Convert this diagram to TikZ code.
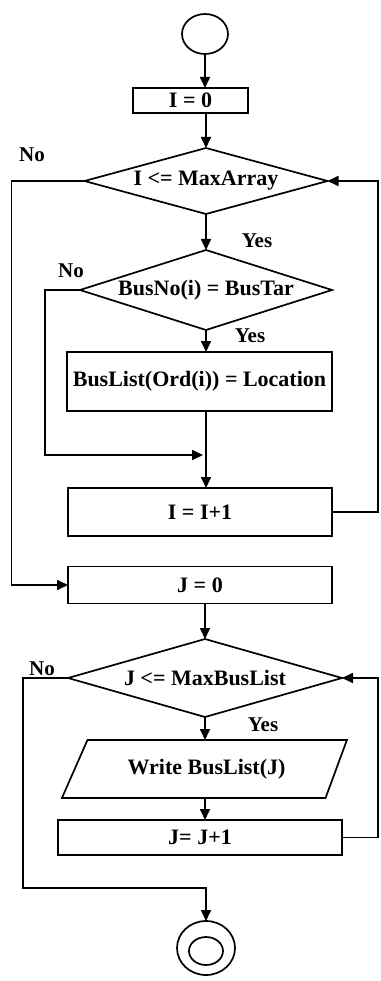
\documentclass[tikz,border=0pt]{standalone}
\usepackage{fontspec}
\setmainfont{Liberation Serif}
\usetikzlibrary{shapes.geometric,arrows.meta}
% zero-width box so that long conditions may touch the outline
\newcommand{\zerowd}[1]{\makebox[0pt]{#1}}
\begin{document}
\begin{tikzpicture}[x=1pt,y=-1pt,
  line width=1.7pt,
  font=\fontsize{22}{24}\selectfont\bfseries,
  every node/.style={inner sep=0pt, outer sep=0pt},
  procbox/.style={draw, rectangle},
  decision/.style={draw, diamond, aspect=1},
  iobox/.style={draw, trapezium, trapezium left angle=38, trapezium right angle=137,
    trapezium stretches body},
  terminal/.style={draw, ellipse},
  flow/.style={-{Triangle[length=11pt,width=10pt]}},
  lbl/.style={font=\fontsize{21}{23}\selectfont\bfseries}
]
\useasboundingbox (0,0) rectangle (380,981);

% nodes
\node[terminal, minimum width=46, minimum height=40] (start) at (205,34) {};
\node[procbox, minimum width=115, minimum height=25] (i0) at (190.5,100.5) {I = 0};
\node[decision, minimum width=243, minimum height=66] (d1) at (206,181) {\zerowd{I <= MaxArray}};
\node[decision, minimum width=252, minimum height=80] (d2) at (206,290) {\zerowd{BusNo(i) = BusTar}};
\node[procbox, minimum width=265, minimum height=59] (busl) at (199.5,381.5) {BusList(Ord(i)) = Location};
\node[procbox, minimum width=264, minimum height=48] (iinc) at (200,512) {I = I+1};
\node[procbox, minimum width=264, minimum height=37] (j0) at (200,585) {J = 0};
\node[decision, minimum width=274, minimum height=78] (d3) at (205,678) {\zerowd{J <= MaxBusList}};
\node[iobox, minimum width=285, minimum height=58] (wr) at (206.5,769) {\zerowd{Write BusList(J)}};
\node[procbox, minimum width=284, minimum height=35] (jinc) at (200,837.5) {J= J+1};
\node[terminal, minimum width=58, minimum height=54] (stop) at (206,948) {};
\node[terminal, minimum width=34, minimum height=28] (stopin) at (206,951) {};

% branch labels
\node[lbl] (no1) at (32,155) {No};
\node[lbl] (yes1) at (257,241) {Yes};
\node[lbl] (no2) at (71,271) {No};
\node[lbl] (yes2) at (250,336) {Yes};
\node[lbl] (no3) at (42,669) {No};
\node[lbl] (yes3) at (263,725) {Yes};

\coordinate (join) at (206,455);

% connectors
\draw[flow] (start.south) -- (start.south |- i0.north);
\draw[flow] (i0.south -| d1.north) -- (d1.north);
\draw[flow] (d1.south) -- (d2.north);
\draw[flow] (d2.south) -- (d2.south |- busl.north);
\draw[flow] (d2.south |- busl.south) -- (d2.south |- iinc.north);
\draw[flow] (d2.west) -- ++(-35,0) |- ([xshift=-3]join);
\draw[flow] (iinc.east) -- ++(46,0) |- (d1.east);
\draw[flow] (d1.west) -- ++(-73,0) |- (j0.west);
\draw[flow] (j0.south -| d3.north) -- (d3.north);
\draw[flow] (d3.south) -- (d3.south |- wr.north);
\draw[flow] (d3.south |- wr.south) -- (d3.south |- jinc.north);
\draw[flow] (jinc.east) -- ++(36,0) |- (d3.east);
\draw[flow] (d3.west) -- ++(-45,0) -- ++(0,210) -| (stop.north);
\end{tikzpicture}
\end{document}
